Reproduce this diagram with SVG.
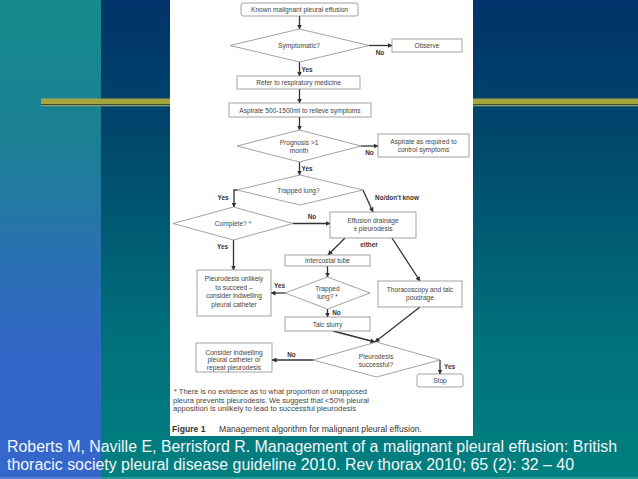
<svg xmlns="http://www.w3.org/2000/svg" width="638" height="479" viewBox="0 0 638 479">
<defs>
<linearGradient id="gLeft" x1="0" y1="0" x2="0" y2="1">
<stop offset="0" stop-color="#148b8b"/>
<stop offset="0.3" stop-color="#1b7f94"/>
<stop offset="0.55" stop-color="#2a70b4"/>
<stop offset="0.75" stop-color="#3466c8"/>
<stop offset="1" stop-color="#3466cc"/>
</linearGradient>
<linearGradient id="gRight" x1="0" y1="0" x2="0" y2="1">
<stop offset="0" stop-color="#00336a"/>
<stop offset="0.25" stop-color="#00446b"/>
<stop offset="0.7" stop-color="#00707a"/>
<stop offset="1" stop-color="#008080"/>
</linearGradient>
<marker id="ah" viewBox="0 0 10 10" refX="9" refY="5" markerWidth="5" markerHeight="5" orient="auto" markerUnits="userSpaceOnUse">
<path d="M0,0 L10,5 L0,10 z" fill="#333"/>
</marker>
</defs>
<style>
.box{fill:#fff;stroke:#8a8a8a;stroke-width:0.8}
.t{font-family:"Liberation Sans",Arial,sans-serif;font-size:6.6px;fill:#444;text-anchor:middle}
.lb{font-family:"Liberation Sans",Arial,sans-serif;font-size:6.4px;fill:#333;font-weight:bold;text-anchor:middle}
.fn{font-family:"Liberation Sans",Arial,sans-serif;font-size:6.3px;fill:#444}
.cap{font-family:"Liberation Sans",Arial,sans-serif;font-size:8.6px;fill:#333}
.cite{font-family:"Liberation Sans",Arial,sans-serif;font-size:16px;fill:#f4f6fa}
.c{fill:none;stroke:#333;stroke-width:1.3;marker-end:url(#ah)}
</style>
<rect x="0" y="0" width="101" height="479" fill="url(#gLeft)"/>
<rect x="101" y="0" width="537" height="479" fill="url(#gRight)"/>
<rect x="41" y="98.5" width="597" height="5.5" fill="#a4a53e"/>
<rect x="41" y="104" width="597" height="1" fill="#3c4a3a"/>
<rect x="41" y="105" width="597" height="1.3" fill="#8fa070"/>
<rect x="0" y="477" width="638" height="2" fill="#ffffff" opacity="0.18"/>
<rect x="170" y="0" width="303" height="436" fill="#ffffff"/>

<g id="connectors">
<line class="c" x1="299.5" y1="16" x2="299.5" y2="29"/>
<line class="c" x1="369" y1="45.5" x2="392" y2="45.5"/>
<line class="c" x1="299.5" y1="62" x2="299.5" y2="76"/>
<line class="c" x1="299.5" y1="89" x2="299.5" y2="103"/>
<line class="c" x1="299.5" y1="117" x2="299.5" y2="130"/>
<line class="c" x1="361" y1="146" x2="378" y2="146"/>
<line class="c" x1="299.5" y1="162" x2="299.5" y2="175"/>
<path class="c" d="M237,190 L234,190 L234,207"/>
<path class="c" d="M363,190 L373,212"/>
<line class="c" x1="293" y1="223.5" x2="330" y2="223.5"/>
<line class="c" x1="233.5" y1="240" x2="233.5" y2="270"/>
<path class="c" d="M345,238 L328,255"/>
<path class="c" d="M392,238 L420,281"/>
<line class="c" x1="327.5" y1="266" x2="327.5" y2="277"/>
<line class="c" x1="285" y1="293" x2="271" y2="293"/>
<line class="c" x1="327.5" y1="309" x2="327.5" y2="317"/>
<path class="c" d="M333,331 L375,342"/>
<path class="c" d="M420,307 L375,342"/>
<line class="c" x1="313" y1="360" x2="272" y2="360"/>
<line class="c" x1="440" y1="360" x2="440" y2="374"/>
<text class="lb" x="380" y="55">No</text>
<text class="lb" x="307" y="71.5">Yes</text>
<text class="lb" x="369.5" y="155">No</text>
<text class="lb" x="307" y="171">Yes</text>
<text class="lb" x="223" y="200">Yes</text>
<text class="lb" x="397" y="200">No/don't know</text>
<text class="lb" x="312" y="219">No</text>
<text class="lb" x="222.5" y="249">Yes</text>
<text class="lb" x="369" y="247">either</text>
<text class="lb" x="279.5" y="288">Yes</text>
<text class="lb" x="336.5" y="314.5">No</text>
<text class="lb" x="291.5" y="356.5">No</text>
<text class="lb" x="449.5" y="369">Yes</text>
</g>

<g id="n_known"><rect class="box" x="241" y="3" width="117" height="13" rx="2"/><text class="t" x="299.5" y="12">Known malignant pleural effusion</text></g>
<g id="n_symptomatic"><polygon class="box" points="230,45.5 299.5,29 369,45.5 299.5,62"/><text class="t" x="299" y="48">Symptomatic?</text></g>
<g id="n_observe"><rect class="box" x="392" y="39" width="70" height="13"/><text class="t" x="427" y="48">Observe</text></g>
<g id="n_refer"><rect class="box" x="237" y="76" width="123" height="13"/><text class="t" x="298.5" y="85">Refer to respiratory medicine</text></g>
<g id="n_aspirate"><rect class="box" x="229" y="103" width="142" height="14"/><text class="t" x="300" y="112.5">Aspirate 500-1500ml to relieve symptoms</text></g>
<g id="n_prognosis"><polygon class="box" points="237,146 299.5,130 361,146 299.5,162"/><text class="t" x="299" y="144.5">Prognosis &gt;1</text><text class="t" x="299" y="153">month</text></g>
<g id="n_aspreq"><rect class="box" x="378" y="134" width="91" height="23"/><text class="t" x="423.5" y="143.5">Aspirate as required to</text><text class="t" x="423.5" y="152">control symptoms</text></g>
<g id="n_trapped"><polygon class="box" points="237,190 300,175 363,190 300,205"/><text class="t" x="298.5" y="193">Trapped lung?</text></g>
<g id="n_complete"><polygon class="box" points="173,223.5 233.5,207 293,223.5 233.5,240"/><text class="t" x="233" y="226">Complete? *</text></g>
<g id="n_effusion"><rect class="box" x="330" y="212" width="86" height="26"/><text class="t" x="373" y="222.5">Effusion drainage</text><text class="t" x="373" y="231">± pleurodesis</text></g>
<g id="n_unlikely"><rect class="box" x="197" y="270" width="74" height="46"/><text class="t" x="234" y="281">Pleurodesis unlikely</text><text class="t" x="234" y="289.5">to succeed –</text><text class="t" x="234" y="298">consider indwelling</text><text class="t" x="234" y="306.5">pleural catheter</text></g>
<g id="n_intercostal"><rect class="box" x="285" y="255" width="85" height="11"/><text class="t" x="327.5" y="263">Intercostal tube</text></g>
<g id="n_trapped2"><polygon class="box" points="285,293 327.5,277 370,293 327.5,309"/><text class="t" x="327.5" y="290.5">Trapped</text><text class="t" x="327.5" y="298.5">lung? *</text></g>
<g id="n_thoraco"><rect class="box" x="378" y="281" width="84" height="26"/><text class="t" x="420" y="292">Thoracoscopy and talc</text><text class="t" x="420" y="300">poudrage</text></g>
<g id="n_talc"><rect class="box" x="285" y="317" width="85" height="14"/><text class="t" x="327.5" y="326.5">Talc slurry</text></g>
<g id="n_success"><polygon class="box" points="313,360 376.5,342 440,360 376.5,377"/><text class="t" x="376" y="358.5">Pleurodesis</text><text class="t" x="376" y="366.5">successful?</text></g>
<g id="n_consider"><rect class="box" x="196" y="343" width="76" height="29"/><text class="t" x="234" y="354.5">Consider indwelling</text><text class="t" x="234" y="362">pleural catheter or</text><text class="t" x="234" y="369.5">repeat pleurodesis</text></g>
<g id="n_stop"><rect class="box" x="417" y="374" width="46" height="13" rx="2"/><text class="t" x="440" y="383">Stop</text></g>

<g id="footnote">
<text class="fn" x="174" y="394" textLength="193" lengthAdjust="spacingAndGlyphs">* There is no evidence as to what proportion of unapposed</text>
<text class="fn" x="173" y="402.5" textLength="196" lengthAdjust="spacingAndGlyphs">pleura prevents pleurodesis.  We suggest that &lt;50% pleural</text>
<text class="fn" x="173" y="410.5" textLength="183" lengthAdjust="spacingAndGlyphs">apposition is unlikely to lead to successful pleurodesis</text>
<text class="cap" x="172" y="432"><tspan font-weight="bold">Figure 1</tspan><tspan x="219">Management algorithm for malignant pleural effusion.</tspan></text>
</g>

<g id="citation">
<text class="cite" x="7" y="452" textLength="610" lengthAdjust="spacingAndGlyphs">Roberts M, Naville E, Berrisford R. Management of a malignant pleural effusion: British</text>
<text class="cite" x="7" y="470" textLength="567" lengthAdjust="spacingAndGlyphs">thoracic society pleural disease guideline 2010. Rev thorax 2010; 65 (2): 32 – 40</text>
</g>
</svg>
